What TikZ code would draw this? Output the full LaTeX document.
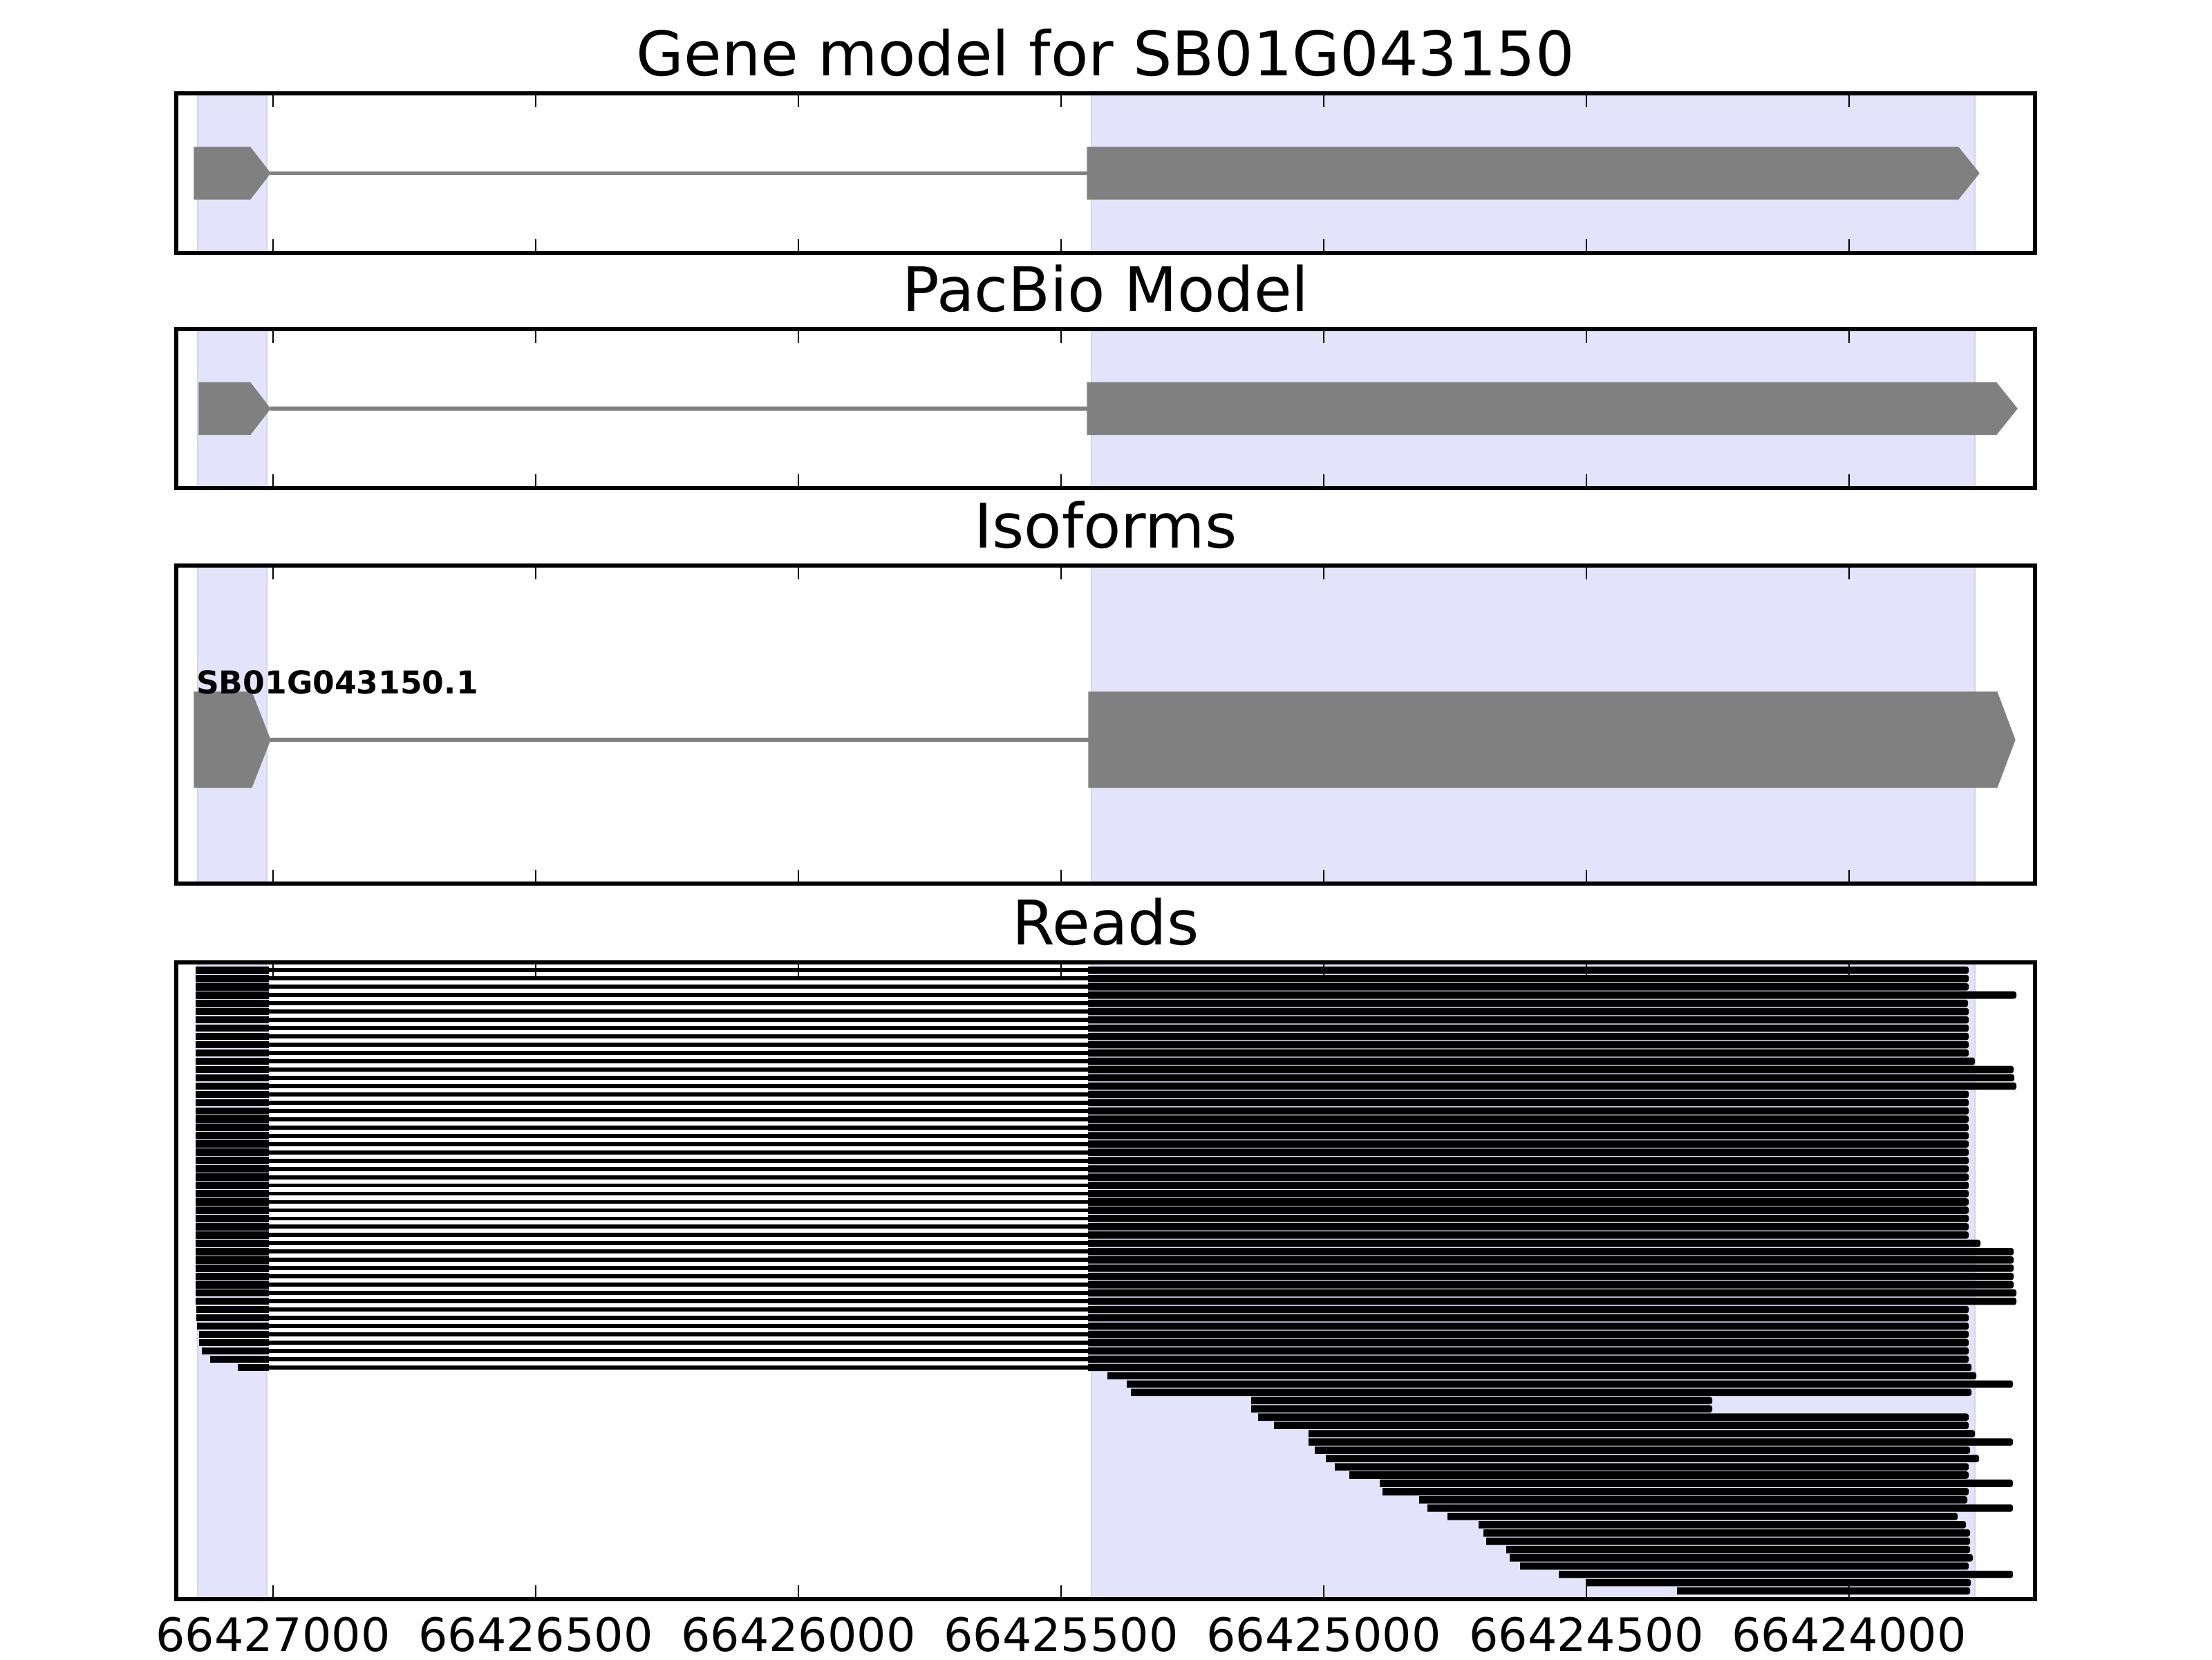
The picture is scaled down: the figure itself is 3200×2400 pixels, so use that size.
\documentclass[tikz,border=0pt]{standalone}
\usepackage{fontspec}
\setmainfont{DejaVu Sans}
\definecolor{shade}{RGB}{227,227,251}
\definecolor{shadeedge}{RGB}{212,212,236}
\definecolor{exongray}{RGB}{128,128,128}
\begin{document}
\begin{tikzpicture}[x=0.18pt,y=-0.18pt,
  shadebox/.style={fill=shade,draw=shadeedge,line width=0.5pt},
  exonshape/.style={fill=exongray,draw=exongray,line width=0.2pt},
  intronline/.style={draw=exongray,line width=1pt},
  readbar/.style={fill=black},
  readintron/.style={draw=black,line width=1.05pt},
  panelframe/.style={draw=black,line width=1pt},
  tickmark/.style={draw=black,line width=0.5pt},
  titletext/.style={font=\fontsize{16}{19}\selectfont,anchor=base,inner sep=0pt},
  ticklabel/.style={font=\fontsize{12}{14}\selectfont,anchor=base,inner sep=0pt},
  isolabel/.style={font=\bfseries\fontsize{8.2}{10}\selectfont,anchor=base west,inner sep=0pt}]
\fill[white] (0,0) rectangle (3200,2400);
\useasboundingbox (0,0) rectangle (3200,2400);
% shaded exon columns
\foreach \top/\bot in {135/366,476/706,818/1278,1392/2313} {
  \path[shadebox] (286,\top) rectangle (386,\bot);
  \path[shadebox] (1579,\top) rectangle (2857,\bot);
}
% gene model
\path[exonshape] (281,213) -- (362,213) -- (391,250.5) -- (362,288) -- (281,288) -- cycle;
\draw[intronline] (391,250.5) -- (1573,250.5);
\path[exonshape] (1573,213) -- (2833,213) -- (2863,250.5) -- (2833,288) -- (1573,288) -- cycle;
% pacbio model
\path[exonshape] (288,553.5) -- (362,553.5) -- (391,591) -- (362,628.5) -- (288,628.5) -- cycle;
\draw[intronline] (391,591) -- (1573,591);
\path[exonshape] (1573,553.5) -- (2888,553.5) -- (2918,591) -- (2888,628.5) -- (1573,628.5) -- cycle;
% isoform
\path[exonshape] (281,1001) -- (364,1001) -- (391,1070) -- (364,1139) -- (281,1139) -- cycle;
\draw[intronline] (391,1070) -- (1575,1070);
\path[exonshape] (1575,1001) -- (2889,1001) -- (2915,1070) -- (2889,1139) -- (1575,1139) -- cycle;
\node[isolabel] (iso) at (283,1003) {SB01G043150.1};
% reads
\foreach \i/\a/\b/\r in {
0/283/1574/2848,1/283/1574/2848,2/283/1574/2848,3/283/1574/2917,4/283/1574/2847,
5/283/1574/2848,6/283/1574/2848,7/283/1574/2848,8/283/1574/2848,9/283/1574/2848,
10/283/1574/2848,11/283/1574/2857,12/283/1574/2913,13/283/1574/2914,14/283/1574/2917,
15/283/1574/2848,16/283/1574/2848,17/283/1574/2848,18/283/1574/2848,19/283/1574/2848,
20/283/1574/2848,21/283/1574/2848,22/283/1574/2848,23/283/1574/2848,24/283/1574/2848,
25/283/1574/2848,26/283/1574/2848,27/283/1574/2848,28/283/1574/2848,29/283/1574/2848,
30/283/1574/2848,31/283/1574/2848,32/283/1574/2848,33/283/1574/2865,34/283/1574/2913,
35/283/1574/2913,36/283/1574/2913,37/283/1574/2913,38/283/1574/2913,39/283/1574/2917,
40/283/1574/2917,41/284/1574/2848,42/284/1574/2848,43/285/1574/2848,44/288/1574/2848,
45/288/1574/2848,46/292/1574/2848,47/304/1574/2848,48/344/1574/2852,
49/0/1602/2859,50/0/1630/2912,51/0/1636/2852,52/0/1810/2477,53/0/1810/2477,
54/0/1820/2848,55/0/1843/2848,56/0/1893/2857,57/0/1893/2912,58/0/1902/2850,
59/0/1918/2863,60/0/1931/2848,61/0/1952/2848,62/0/1996/2912,63/0/2000/2848,
64/0/2053/2846,65/0/2065/2912,66/0/2094/2832,67/0/2139/2844,68/0/2146/2850,
69/0/2150/2850,70/0/2179/2850,71/0/2184/2854,72/0/2199/2848,73/0/2255/2912,
74/0/2294/2851,75/0/2426/2850} {
  \pgfmathsetmacro\yc{1403.3+11.97*\i}
  \ifnum\a>0
    \fill[readbar] (\a,\yc-5.3) rectangle (388.7,\yc+5.3);
    \draw[readintron] (388.7,\yc) -- (\b,\yc);
  \fi
  \fill[readbar] (\b,\yc+5.3) -- (\b,\yc-5.3) [rounded corners=0.6pt] -- (\r,\yc-5.3) -- (\r,\yc+5.3) [sharp corners] -- cycle;
}
% frames and ticks
\foreach \top/\bot in {135/366,476/706,818/1278,1392/2313} {
  \draw[panelframe] (255,\top) rectangle (2944,\bot);
  \foreach \x in {395,775,1155,1535,1915,2295,2675} {
    \draw[tickmark] (\x,\top) -- (\x,\top+20);
    \draw[tickmark] (\x,\bot) -- (\x,\bot-20);
  }
}
% titles
\node[titletext] (t1) at (1599.5,109) {Gene model for SB01G043150};
\node[titletext] (t2) at (1599.5,450) {PacBio Model};
\node[titletext] (t3) at (1599.5,792) {Isoforms};
\node[titletext] (t4) at (1599.5,1366) {Reads};
% tick labels
\foreach \k/\v in {0/66427000,1/66426500,2/66426000,3/66425500,4/66425000,5/66424500,6/66424000} {
  \node[ticklabel] (lab\k) at (395+380*\k,2388) {\v};
}
\end{tikzpicture}
\end{document}
